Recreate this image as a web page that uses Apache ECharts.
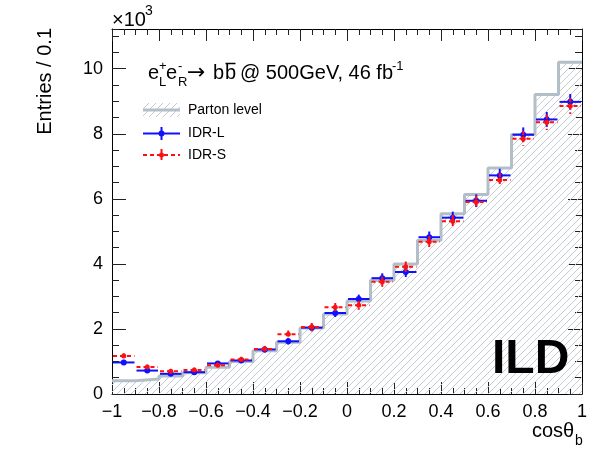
<!DOCTYPE html>
<html>
<head>
<meta charset="utf-8">
<script src="https://cdn.jsdelivr.net/npm/echarts@6/dist/echarts.min.js"></script>
<style>
html,body{margin:0;padding:0;background:#fff;}
#chart{width:601px;height:453px;}
</style>
</head>
<body>
<div id="chart"></div>
<script>
// ---- data (entries per bin of 0.1 in cos(theta_b)) ----
const binEdges = [-1,-0.9,-0.8,-0.7,-0.6,-0.5,-0.4,-0.3,-0.2,-0.1,0,0.1,0.2,0.3,0.4,0.5,0.6,0.7,0.8,0.9,1];
const partonLevel = [410,460,550,650,820,1000,1330,1590,2030,2460,2860,3500,4000,4730,5540,6130,6950,7980,9210,10200];
const idrL        = [970,720,620,670,940,1030,1370,1620,2040,2490,2920,3560,3750,4820,5420,5940,6720,7970,8440,8980];
const idrLErr     = [80,70,65,65,75,80,95,100,115,125,135,150,155,175,185,195,205,225,230,240];
const idrS        = [1170,830,700,740,880,1060,1380,1840,2060,2670,2730,3450,3910,4680,5310,5900,6580,7850,8350,8850];
const idrSErr     = [85,75,70,70,80,85,100,110,120,130,140,155,160,180,190,200,210,230,235,245];
const yTickLabels = ['0','2','4','6','8','10'];

const Y_MAX = 11220;

// hatch pattern
function makeHatch(){
  const c = document.createElement('canvas');
  c.width = 7; c.height = 7;
  const ctx = c.getContext('2d');
  ctx.strokeStyle = '#c3ccd4';
  ctx.lineWidth = 1;
  ctx.beginPath();
  ctx.moveTo(0,7); ctx.lineTo(7,0);
  ctx.moveTo(-1,1); ctx.lineTo(1,-1);
  ctx.moveTo(6,8); ctx.lineTo(8,6);
  ctx.stroke();
  return c;
}
const hatch = {image: makeHatch(), repeat: 'repeat'};
const GRAY = '#b3bfc8';
const BLUE = '#1010ff';
const RED = '#ff1010';
const FONT = '"Liberation Sans", Arial, Helvetica, sans-serif';

// step outline of the parton-level histogram
const stepData = [];
partonLevel.forEach((v,i)=>{ stepData.push([binEdges[i], v]); stepData.push([binEdges[i+1], v]); });
const lData = idrL.map((v,i)=>[binEdges[i], binEdges[i+1], v, idrLErr[i]]);
const sData = idrS.map((v,i)=>[binEdges[i], binEdges[i+1], v, idrSErr[i]]);

function errRenderer(color, dashed, r){
  return function(params, api){
    const lo = api.value(0), hi = api.value(1), v = api.value(2), e = api.value(3);
    const mid = (lo+hi)/2;
    const a = api.coord([lo, v]), b = api.coord([hi, v]);
    const t = api.coord([mid, v+e]), d = api.coord([mid, v-e]);
    const ls = {stroke: color, lineWidth: 2, lineDash: dashed ? [4,3] : null};
    return {type:'group', children:[
      {type:'line', shape:{x1:a[0]+1, y1:a[1], x2:b[0]-1, y2:b[1]}, style: ls},
      {type:'line', shape:{x1:t[0], y1:t[1], x2:d[0], y2:d[1]}, style: ls},
      {type:'circle', shape:{cx:t[0], cy:a[1], r:r}, style:{fill:color}}
    ]};
  };
}

const fmtX = v => { const r = Math.round(v*10)/10; return (r<0 ? '\u2212' + Math.abs(r) : String(r)); };
const fmtY = v => (Math.abs(v % 2000) < 1e-6 && yTickLabels[Math.round(v/2000)] !== undefined) ? yTickLabels[Math.round(v/2000)] : '';

const tickStyle = {color:'#222', width:1};
const axisLine = {show:true, onZero:false, lineStyle:{color:'#000', width:1}};
const noLine = {show:false, onZero:false};

const chart = echarts.init(document.getElementById('chart'), null, {renderer:'canvas'});
const option = {
  animation: false,
  backgroundColor: '#fff',
  grid: {left:112, right:19, top:29, bottom:59, containLabel:false, outerBoundsMode:'none'},
  xAxis: [
    {type:'value', position:'bottom', min:-1, max:1, interval:0.2,
     axisLine: axisLine, splitLine:{show:false},
     axisTick:{show:true, inside:true, length:12, lineStyle:tickStyle},
     minorTick:{show:true, splitNumber:4, length:6, lineStyle:tickStyle},
     axisLabel:{show:true, formatter: fmtX, color:'#000', fontSize:18, fontFamily:FONT, margin:9}},
    {type:'value', position:'top', min:-1, max:1, interval:0.2,
     axisLine: axisLine, splitLine:{show:false},
     axisTick:{show:true, inside:true, length:12, lineStyle:tickStyle},
     minorTick:{show:true, splitNumber:4, length:6, lineStyle:tickStyle},
     axisLabel:{show:false}}
  ],
  yAxis: [
    {type:'value', position:'left', min:0, max:Y_MAX, interval:2000,
     axisLine: axisLine, splitLine:{show:false},
     axisTick:{show:true, inside:true, length:14, lineStyle:tickStyle},
     axisLabel:{show:true, formatter: fmtY, showMaxLabel:false, color:'#000', fontSize:18, fontFamily:FONT, margin:9}},
    {type:'value', position:'left', min:0, max:Y_MAX, interval:500,
     axisLine: noLine, splitLine:{show:false},
     axisTick:{show:true, inside:true, length:7, lineStyle:tickStyle},
     axisLabel:{show:false}},
    {type:'value', position:'right', min:0, max:Y_MAX, interval:2000,
     axisLine: axisLine, splitLine:{show:false},
     axisTick:{show:true, inside:true, length:14, lineStyle:tickStyle},
     axisLabel:{show:false}},
    {type:'value', position:'right', min:0, max:Y_MAX, interval:500,
     axisLine: noLine, splitLine:{show:false},
     axisTick:{show:true, inside:true, length:7, lineStyle:tickStyle},
     axisLabel:{show:false}}
  ],
  series: [
    {type:'line', name:'Parton level', data: stepData, xAxisIndex:0, yAxisIndex:0,
     symbol:'none', z:1, silent:true,
     lineStyle:{color:GRAY, width:3},
     areaStyle:{color: hatch, opacity:1}},
    {type:'custom', name:'IDR-L', data: lData, xAxisIndex:0, yAxisIndex:0, z:3,
     encode:{x:[0,1], y:[2]}, renderItem: errRenderer(BLUE, false, 3)},
    {type:'custom', name:'IDR-S', data: sData, xAxisIndex:0, yAxisIndex:0, z:4,
     encode:{x:[0,1], y:[2]}, renderItem: errRenderer(RED, true, 2.5)}
  ],
  graphic: [
    // x10^3
    {type:'text', x:112, y:20, style:{text:'\u00d710', font:'20px '+FONT, fill:'#000', verticalAlign:'middle'}},
    {type:'text', x:145, y:11, style:{text:'3', font:'14px '+FONT, fill:'#000', verticalAlign:'middle'}},
    // y title
    {type:'text', x:45, y:28, rotation:Math.PI/2, style:{text:'Entries / 0.1', font:'20px '+FONT, fill:'#000', align:'right', verticalAlign:'middle'}},
    // x title
    {type:'text', x:532, y:431, style:{text:'cos\u03b8', font:'20px '+FONT, fill:'#000', verticalAlign:'middle'}},
    {type:'text', x:575, y:441, style:{text:'b', font:'14px '+FONT, fill:'#000', verticalAlign:'middle'}},
    // process label
    {type:'text', x:148, y:73, style:{text:'e', font:'20px '+FONT, fill:'#000', verticalAlign:'middle'}},
    {type:'text', x:159, y:66, style:{text:'+', font:'13px '+FONT, fill:'#000', verticalAlign:'middle'}},
    {type:'text', x:159, y:82, style:{text:'L', font:'13px '+FONT, fill:'#000', verticalAlign:'middle'}},
    {type:'text', x:166, y:73, style:{text:'e', font:'20px '+FONT, fill:'#000', verticalAlign:'middle'}},
    {type:'text', x:178, y:66, style:{text:'-', font:'13px '+FONT, fill:'#000', verticalAlign:'middle'}},
    {type:'text', x:178, y:82, style:{text:'R', font:'13px '+FONT, fill:'#000', verticalAlign:'middle'}},
    {type:'text', x:187, y:73, style:{text:'\u2192', font:'22px "DejaVu Sans", '+FONT, fill:'#000', verticalAlign:'middle'}},
    {type:'text', x:213, y:73, style:{text:'b', font:'20px '+FONT, fill:'#000', verticalAlign:'middle'}},
    {type:'text', x:225, y:73, style:{text:'b', font:'20px '+FONT, fill:'#000', verticalAlign:'middle'}},
    {type:'line', shape:{x1:225.5, y1:63.5, x2:235.5, y2:63.5}, style:{stroke:'#000', lineWidth:1.5}},
    {type:'text', x:240, y:73, style:{text:'@ 500GeV, 46 fb', font:'20px '+FONT, fill:'#000', verticalAlign:'middle'}},
    {type:'text', x:392, y:66, style:{text:'-1', font:'13px '+FONT, fill:'#000', verticalAlign:'middle'}},
    // legend
    {type:'rect', shape:{x:143, y:103, width:37, height:14}, style:{fill:hatch}},
    {type:'line', shape:{x1:143, y1:110, x2:180, y2:110}, style:{stroke:GRAY, lineWidth:3}},
    {type:'text', x:188, y:110, style:{text:'Parton level', font:'14px '+FONT, fill:'#000', verticalAlign:'middle'}},
    {type:'line', shape:{x1:143, y1:133.5, x2:180, y2:133.5}, style:{stroke:BLUE, lineWidth:2}},
    {type:'line', shape:{x1:161.5, y1:127, x2:161.5, y2:140}, style:{stroke:BLUE, lineWidth:2}},
    {type:'circle', shape:{cx:161.5, cy:133.5, r:3}, style:{fill:BLUE}},
    {type:'text', x:188, y:133.5, style:{text:'IDR-L', font:'14px '+FONT, fill:'#000', verticalAlign:'middle'}},
    {type:'line', shape:{x1:143, y1:155, x2:180, y2:155}, style:{stroke:RED, lineWidth:2, lineDash:[4,3]}},
    {type:'line', shape:{x1:161.5, y1:149, x2:161.5, y2:161}, style:{stroke:RED, lineWidth:2, lineDash:[4,3]}},
    {type:'circle', shape:{cx:161.5, cy:155, r:2.5}, style:{fill:RED}},
    {type:'text', x:188, y:155, style:{text:'IDR-S', font:'14px '+FONT, fill:'#000', verticalAlign:'middle'}},
    // ILD
    {type:'text', x:492, y:360, z:10, style:{text:'ILD', font:'bold 48px '+FONT, fill:'#000', verticalAlign:'middle'}}
  ]
};
chart.setOption(option);
</script>
</body>
</html>
